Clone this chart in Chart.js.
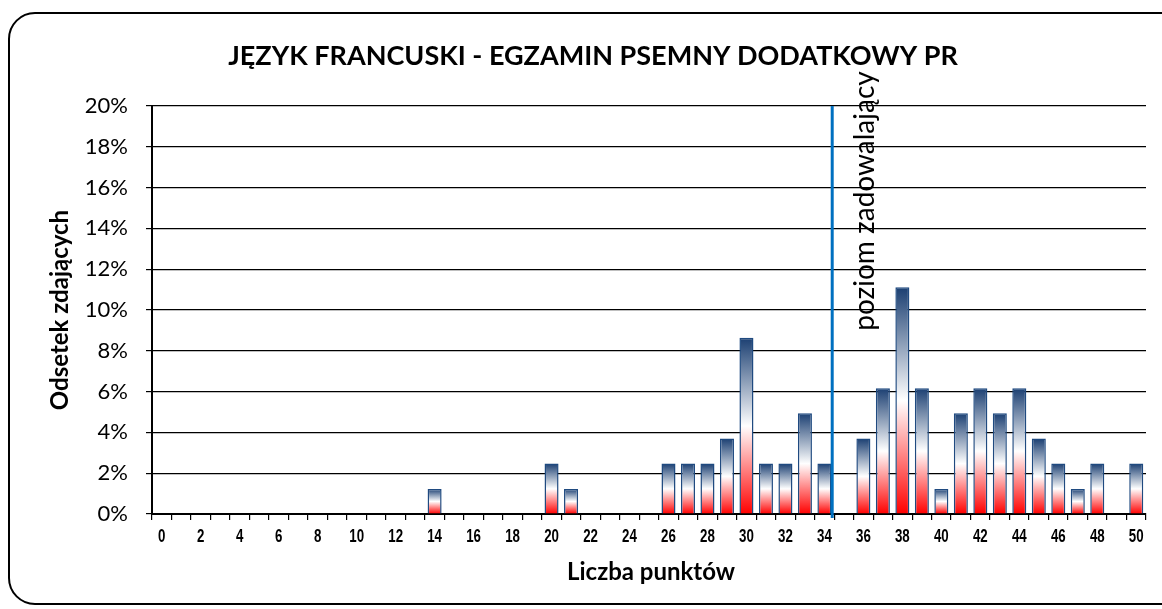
<!DOCTYPE html>
<html>
<head>
<meta charset="utf-8">
<script src="https://cdn.jsdelivr.net/npm/chart.js@4/dist/chart.umd.min.js"></script>
<style>
html,body{margin:0;padding:0;background:#fff;}
#wrap{position:relative;width:1162px;height:609px;}
</style>
</head>
<body>
<div id="wrap"><canvas id="c" width="1162" height="609"></canvas></div>
<script>
const chartTitle = 'JĘZYK FRANCUSKI - EGZAMIN PSEMNY DODATKOWY PR';
const xTitle = 'Liczba punktów';
const yTitle = 'Odsetek zdających';
const lineLabel = 'poziom zadowalający';
const lineValue = 34.4;
const categories = ['0','1','2','3','4','5','6','7','8','9','10','11','12','13','14','15','16','17','18','19','20','21','22','23','24','25','26','27','28','29','30','31','32','33','34','35','36','37','38','39','40','41','42','43','44','45','46','47','48','49','50'];
const percents = [null,null,null,null,null,null,null,null,null,null,null,null,null,null,1.23,null,null,null,null,null,2.47,1.23,null,null,null,null,2.47,2.47,2.47,3.70,8.64,2.47,2.47,4.94,2.47,null,3.70,6.17,11.11,6.17,1.23,4.94,6.17,4.94,6.17,3.70,2.47,1.23,2.47,null,2.47];
const yTicks = [0,2,4,6,8,10,12,14,16,18,20];

function barGradient(ctx){
  const chart = ctx.chart;
  if(!chart.chartArea || !chart.scales.y || ctx.raw == null) return '#ff0000';
  const ys = chart.scales.y;
  const top = ys.getPixelForValue(ctx.raw);
  const base = ys.getPixelForValue(0);
  if(!isFinite(top) || !isFinite(base) || top === base) return '#ff0000';
  const g = chart.ctx.createLinearGradient(0, top, 0, base);
  g.addColorStop(0, '#1B3F72');
  g.addColorStop(0.5, '#FFFFFF');
  g.addColorStop(1, '#FF0000');
  return g;
}

const decor = {
  id: 'decor',
  beforeDraw(chart){
    const c = chart.ctx;
    c.save();
    c.fillStyle = '#fff';
    c.fillRect(0,0,chart.width,chart.height);
    c.strokeStyle = '#000';
    c.lineWidth = 2;
    const x=9,y=13,w=1200,h=591,r=26;
    c.beginPath();
    c.moveTo(x+r,y);
    c.lineTo(x+w-r,y);
    c.arcTo(x+w,y,x+w,y+r,r);
    c.lineTo(x+w,y+h-r);
    c.arcTo(x+w,y+h,x+w-r,y+h,r);
    c.lineTo(x+r,y+h);
    c.arcTo(x,y+h,x,y+h-r,r);
    c.lineTo(x,y+r);
    c.arcTo(x,y,x+r,y,r);
    c.closePath();
    c.stroke();
    c.restore();
  },
  afterDraw(chart){
    const c = chart.ctx;
    const xs = chart.scales.x, ys = chart.scales.y;
    c.save();
    c.fillStyle = '#000';
    c.textAlign = 'center';
    c.textBaseline = 'middle';
    c.font = 'bold 27px Lato';
    c.fillText(chartTitle, 593, 56);
    c.font = 'bold 24px Lato';
    c.fillText(xTitle, 651, 572);
    c.save();
    c.translate(60, 310);
    c.rotate(-Math.PI/2);
    c.fillText(yTitle, 0, 0);
    c.restore();
    // x tick labels (condensed bold)
    c.font = "bold 19px 'Liberation Sans'";
    c.textBaseline = 'alphabetic';
    const by = ys.getPixelForValue(0) + 28;
    categories.forEach((lab, i) => {
      if (i % 2 !== 0) return;
      const px = xs.getPixelForValue(i);
      c.save();
      c.translate(px, by);
      c.scale(0.7, 1);
      c.fillText(lab, 0, 0);
      c.restore();
    });
    // threshold line
    const lx = xs.getPixelForValue(lineValue);
    c.strokeStyle = '#0070C0';
    c.lineWidth = 3;
    c.beginPath();
    c.moveTo(lx, ys.getPixelForValue(20));
    c.lineTo(lx, ys.getPixelForValue(0)+4);
    c.stroke();
    c.save();
    c.textBaseline = 'middle';
    c.translate(lx+33, 201);
    c.rotate(-Math.PI/2);
    c.font = '28px Lato';
    c.fillStyle = '#000';
    c.fillText(lineLabel, 0, 0);
    c.restore();
    c.restore();
  }
};

new Chart(document.getElementById('c'), {
  type: 'bar',
  data: {
    labels: categories,
    datasets: [{
      data: percents,
      backgroundColor: barGradient,
      borderColor: '#1F4A80',
      borderWidth: 1.5,
      borderSkipped: 'bottom',
      barPercentage: 0.72,
      categoryPercentage: 1.0
    }]
  },
  options: {
    responsive: false,
    animation: false,
    devicePixelRatio: 1,
    layout: { padding: { left: 0, right: 16, top: 106, bottom: 0 } },
    plugins: { legend: { display: false }, title: { display: false }, tooltip: { enabled: false } },
    scales: {
      x: {
        offset: true,
        grid: { offset: true, drawOnChartArea: false, drawTicks: true, tickLength: 6, color: '#000', lineWidth: 1.2 },
        border: { display: true, color: '#000', width: 2 },
        ticks: { display: false },
        afterFit(scale){ scale.height = 95; }
      },
      y: {
        min: 0, max: 20,
        afterBuildTicks(scale){ scale.ticks = yTicks.map(v => ({value: v})); },
        grid: { drawOnChartArea: true, drawTicks: true, tickLength: 6, color: '#000', lineWidth: 1.2 },
        border: { display: true, color: '#000', width: 2 },
        ticks: {
          padding: 18, color: '#000',
          font: { family: 'Lato', size: 22 },
          callback: v => v + '%'
        },
        afterFit(scale){ scale.width = 152; }
      }
    }
  },
  plugins: [decor]
});
</script>
</body>
</html>
